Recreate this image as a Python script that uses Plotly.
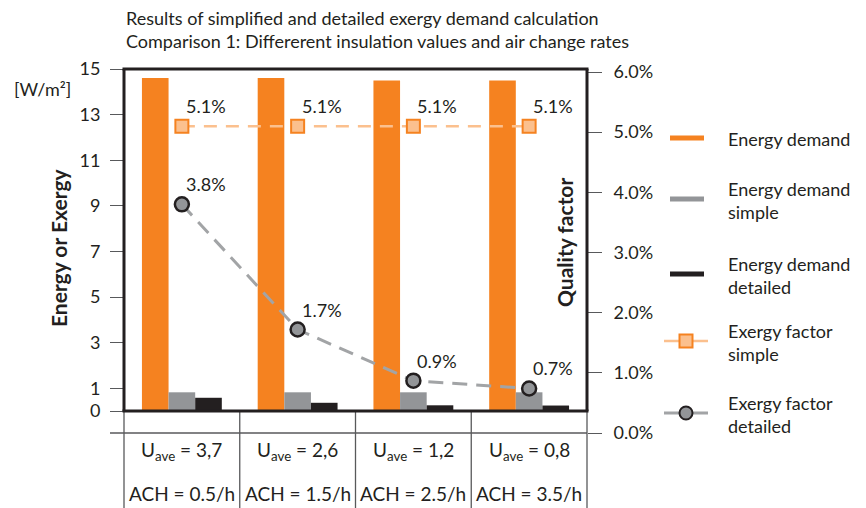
import plotly.graph_objects as go

# ---------------- data ----------------
categories = ["Case 1", "Case 2", "Case 3", "Case 4"]
u_ave = ["3,7", "2,6", "1,2", "0,8"]
ach = ["0.5/h", "1.5/h", "2.5/h", "3.5/h"]
energy_demand = [14.6, 14.6, 14.5, 14.5]
energy_demand_simple = [0.82, 0.82, 0.82, 0.82]
energy_demand_detailed = [0.58, 0.36, 0.25, 0.24]
exergy_factor_simple = [5.1, 5.1, 5.1, 5.1]
exergy_factor_detailed = [3.8, 1.72, 0.87, 0.74]
left_ticks = [0, 1, 3, 5, 7, 9, 11, 13, 15]
right_ticks = [0, 1, 2, 3, 4, 5, 6]

# ---------------- styling ----------------
FONT = "Lato"
DARK = "#231F20"
ORANGE = "#F58220"
LIGHT_ORANGE = "#FBC08E"
GRAY = "#939598"
LINE_GRAY = "#A2A4A6"
TICK = "#58595B"

W, H = 866, 508
L, R, T, B = 124, 587, 69, 433
YMIN, YMAX = -0.965, 15.0
Y2MIN, Y2MAX = 0.0, 6.05


def X(px):
    return (px - L) / (R - L)


def Y(py):
    return (B - py) / (B - T)


fig = go.Figure()

fig.add_trace(go.Bar(x=categories, y=energy_demand, name="Energy demand",
                     marker=dict(color=ORANGE, line=dict(width=0))))
fig.add_trace(go.Bar(x=categories, y=energy_demand_simple, name="Energy demand simple",
                     marker=dict(color=GRAY, line=dict(width=0))))
fig.add_trace(go.Bar(x=categories, y=energy_demand_detailed, name="Energy demand detailed",
                     marker=dict(color=DARK, line=dict(width=0))))

fig.add_trace(go.Scatter(x=categories, y=exergy_factor_simple, yaxis="y2",
                         mode="lines+markers", name="Exergy factor simple",
                         line=dict(color=LIGHT_ORANGE, width=2.5, dash="13px,9px"),
                         marker=dict(symbol="square", size=13, color=LIGHT_ORANGE,
                                     line=dict(color=ORANGE, width=2))))
fig.add_trace(go.Scatter(x=categories, y=exergy_factor_detailed, yaxis="y2",
                         mode="lines+markers", name="Exergy factor detailed",
                         line=dict(color=LINE_GRAY, width=3, dash="15px,9px"),
                         marker=dict(symbol="circle", size=14, color=GRAY,
                                     line=dict(color=DARK, width=2.5))))

shapes = []
annotations = []


def hline(x0, x1, y, color, width):
    shapes.append(dict(type="line", xref="paper", yref="paper", x0=x0, x1=x1, y0=y, y1=y,
                       line=dict(color=color, width=width), layer="above"))


def vline(x, y0, y1, color, width):
    shapes.append(dict(type="line", xref="paper", yref="paper", x0=x, x1=x, y0=y0, y1=y1,
                       line=dict(color=color, width=width), layer="above"))


# table below the plot
y0p = (0 - YMIN) / (YMAX - YMIN)
n = len(categories)
hline(X(110), 1, 0, TICK, 1.3)
for k in range(n + 1):
    vline(k / n, y0p, Y(H + 2), TICK, 1.3)

# frame of the plot (thick)
hline(X(L - 1.5), X(R + 1.5), 1, DARK, 3)
hline(X(L - 1.5), X(R + 1.5), y0p, DARK, 3)
vline(0, y0p, 1, DARK, 3)
vline(1, y0p, 1, DARK, 3)


def note(x, y, text, size, xref="paper", yref="paper", **kw):
    d = dict(x=x, y=y, xref=xref, yref=yref, text=text, showarrow=False,
             xanchor="center", yanchor="middle",
             font=dict(family=FONT, size=size, color=DARK))
    d.update(kw)
    annotations.append(d)


for i, cat in enumerate(categories):
    note(cat, Y(451), f"U<sub>ave</sub> = {u_ave[i]}", 19, xref="x")
    note(cat, Y(493), f"ACH = {ach[i]}", 19, xref="x")

# data labels
for series in (exergy_factor_simple, exergy_factor_detailed):
    for cat, v in zip(categories, series):
        note(cat, v, f"{v:.1f}%", 18, xref="x", yref="y2", xshift=24, yshift=20)

# titles
note(X(124), Y(18), "Results of simplified and detailed exergy demand calculation", 18,
     xanchor="left")
note(X(124), Y(41), "Comparison 1: Differerent insulation values and air change rates", 18,
     xanchor="left")
note(X(42), Y(89), "[W/m²]", 18)
note(X(58), Y(248), "<b>Energy or Exergy</b>", 21, textangle=-90)
note(X(564), Y(243), "<b>Quality factor</b>", 21, textangle=-90)

# manual legend
legend_items = [
    ("Energy demand", 138, ORANGE, 5, None),
    ("Energy demand<br>simple", 199, GRAY, 5, None),
    ("Energy demand<br>detailed", 274, DARK, 5, None),
    ("Exergy factor<br>simple", 341, LIGHT_ORANGE, 2.5, "square"),
    ("Exergy factor<br>detailed", 413, LINE_GRAY, 3, "circle"),
]
for text, py, col, lw, sym in legend_items:
    if sym is None:
        hline(X(670), X(704), Y(py), col, lw)
    else:
        hline(X(664), X(708), Y(py), col, lw)
        kind = "rect" if sym == "square" else "circle"
        fill = LIGHT_ORANGE if sym == "square" else GRAY
        edge = ORANGE if sym == "square" else DARK
        shapes.append(dict(type=kind, xref="paper", yref="paper", x0=X(679.5), x1=X(692.5),
                           y0=Y(py + 6.5), y1=Y(py - 6.5), fillcolor=fill,
                           line=dict(color=edge, width=2), layer="above"))
    note(X(726), Y(py + 1), text, 18, xanchor="left", align="left")

fig.update_layout(
    width=W, height=H,
    margin=dict(l=L, r=W - R, t=T, b=H - B, pad=0),
    paper_bgcolor="white", plot_bgcolor="white",
    showlegend=False,
    barmode="group", bargap=0.31, bargroupgap=0,
    font=dict(family=FONT, size=18, color=DARK),
    xaxis=dict(type="category", range=[-0.5, 3.5], showticklabels=False, ticks="",
               showgrid=False, zeroline=False, showline=False, fixedrange=True),
    yaxis=dict(range=[YMIN, YMAX], tickvals=left_ticks, ticks="outside", ticklen=13,
               tickwidth=1.3, tickcolor=TICK, showgrid=False, zeroline=False, showline=False,
               tickfont=dict(family=FONT, size=18, color=DARK), ticklabelstandoff=6),
    yaxis2=dict(range=[Y2MIN, Y2MAX], overlaying="y", side="right", tickvals=right_ticks,
                ticktext=[f"{v:.1f}%" for v in right_ticks], ticks="outside", ticklen=14,
                tickwidth=1.3, tickcolor=TICK, showgrid=False, zeroline=False, showline=False,
                tickfont=dict(family=FONT, size=18, color=DARK), ticklabelstandoff=8),
    shapes=shapes,
    annotations=annotations,
)

fig.write_html("out.html", config={"displayModeBar": False},
               post_script="document.body.style.margin='0';")
